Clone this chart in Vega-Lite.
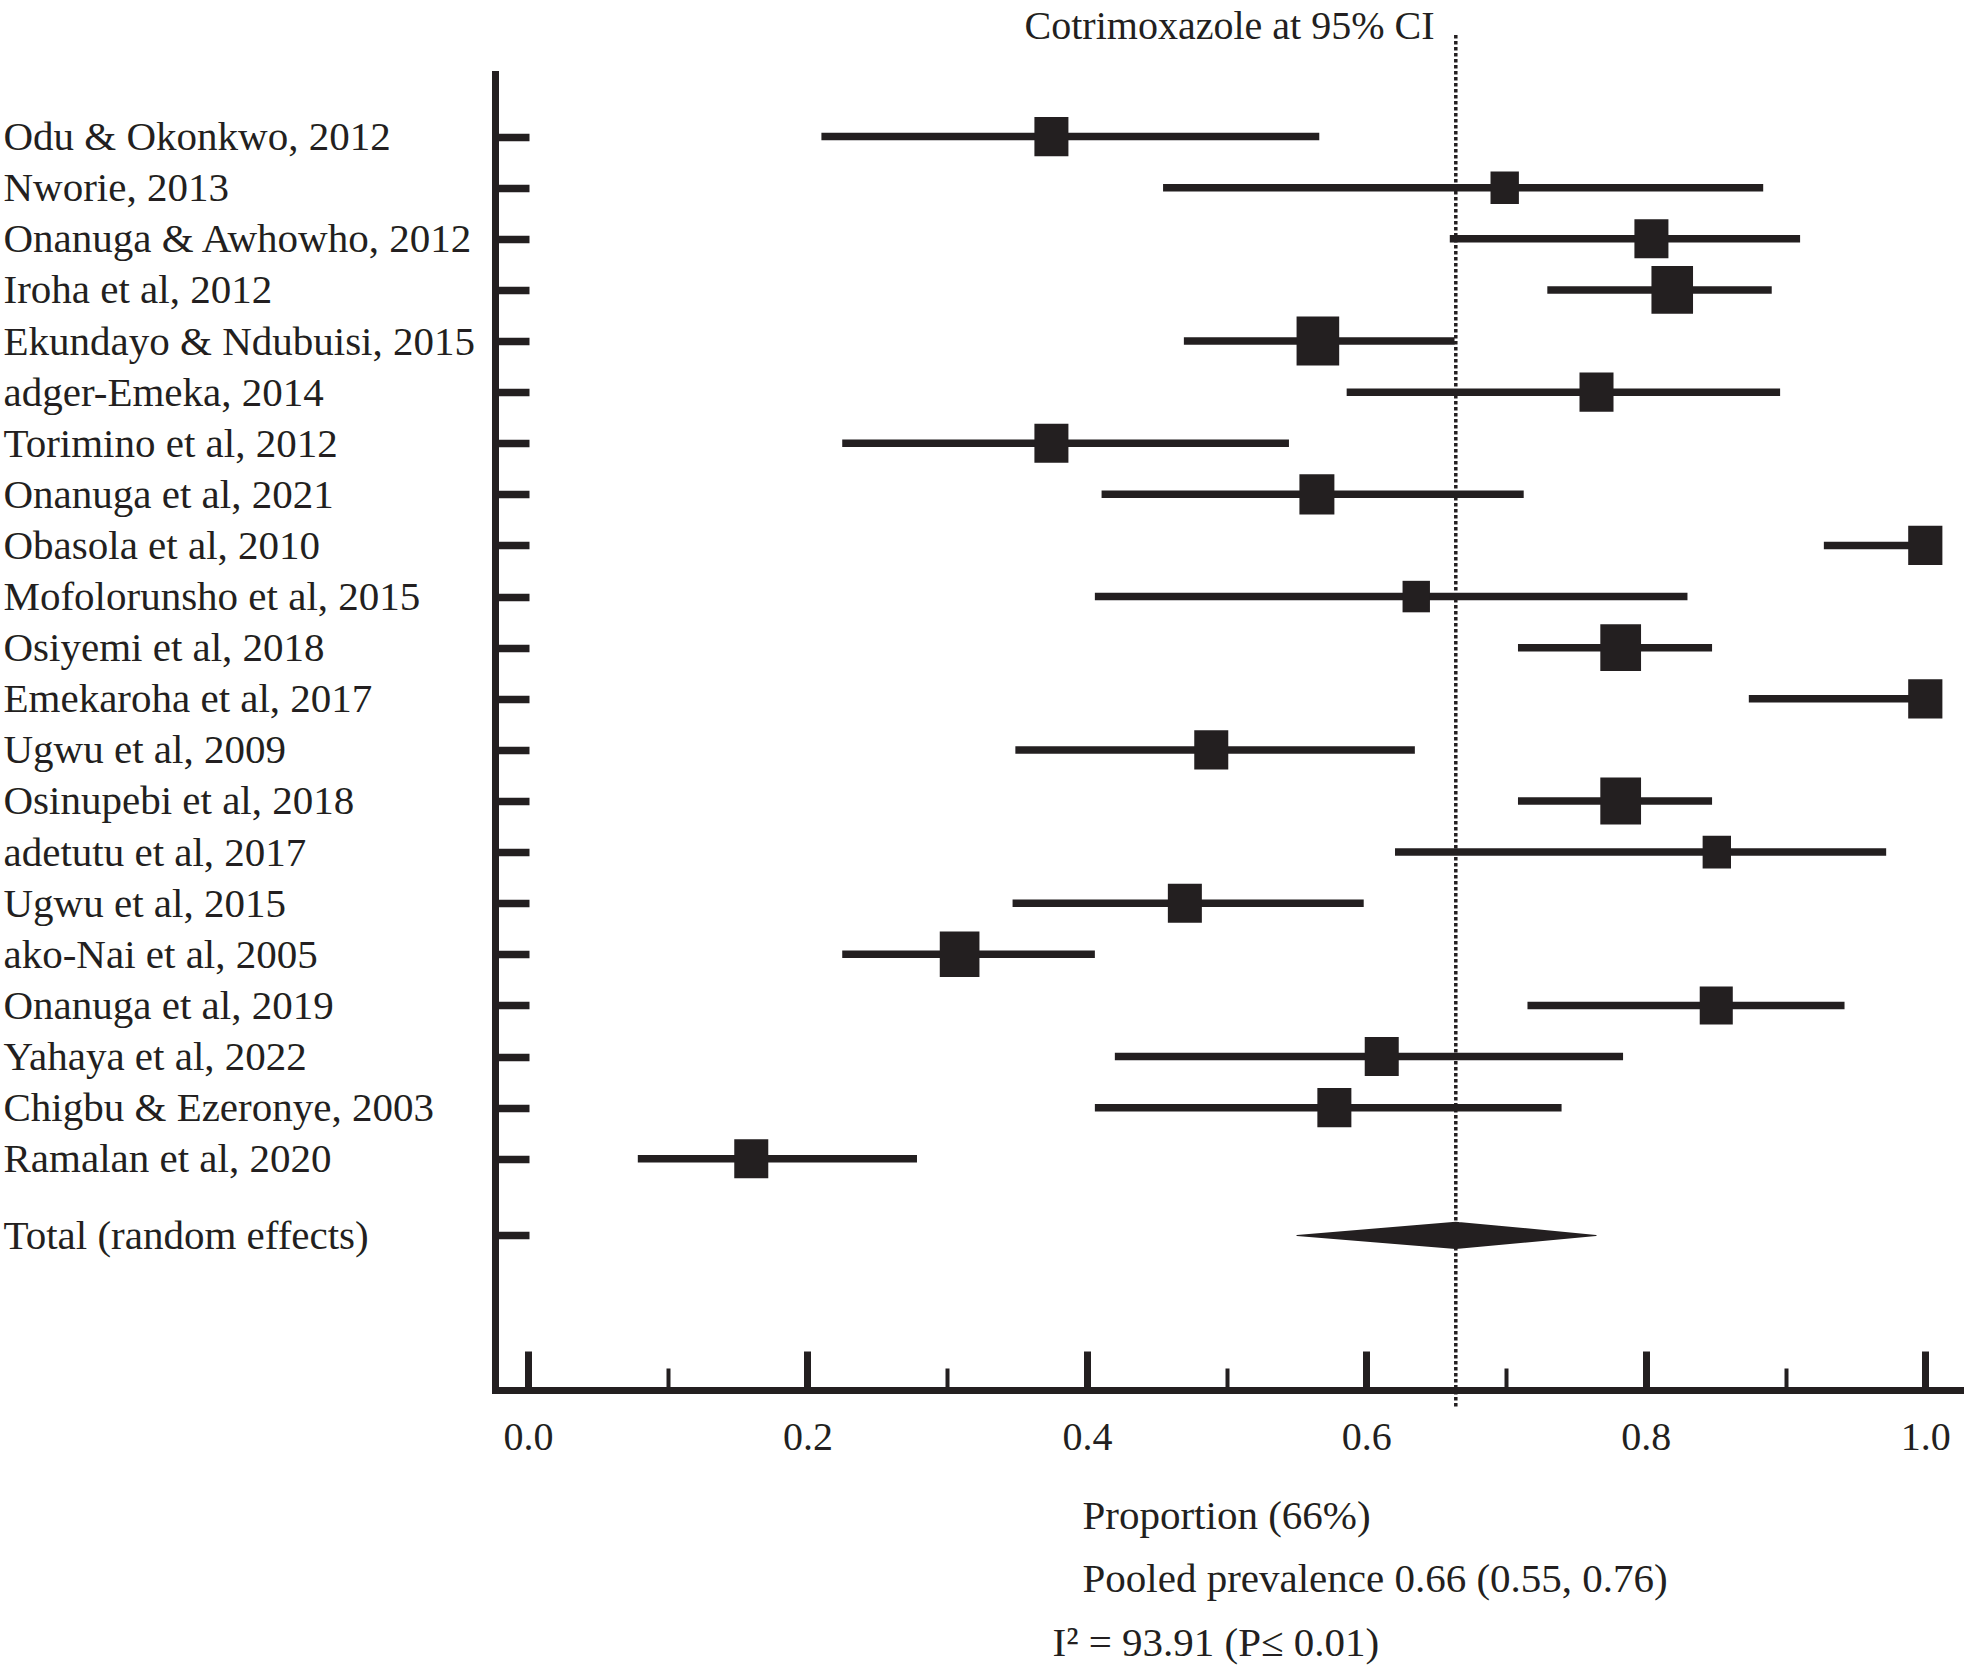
{
  "$schema": "https://vega.github.io/schema/vega-lite/v6.json",
  "autosize": {"type": "none"},
  "padding": {"left": 495, "top": 74, "right": 0, "bottom": 278},
  "width": 1469,
  "height": 1316,
  "background": "white",
  "config": {"view": {"stroke": null}, "axis": {"grid": false}},
  "title": {
    "text": "Cotrimoxazole at 95% CI",
    "font": "Liberation Serif",
    "fontSize": 40,
    "fontWeight": "normal",
    "color": "#231f20",
    "anchor": "middle",
    "baseline": "alphabetic",
    "offset": -46
  },
  "data": {
    "values": [
      {"study": "Odu & Okonkwo, 2012", "kind": "study", "lo": 0.210, "est": 0.3746, "hi": 0.5663, "weight": 3.82},
      {"study": "Nworie, 2013", "kind": "study", "lo": 0.4545, "est": 0.699, "hi": 0.884, "weight": 2.66},
      {"study": "Onanuga & Awhowho, 2012", "kind": "study", "lo": 0.6597, "est": 0.804, "hi": 0.9104, "weight": 3.82},
      {"study": "Iroha et al, 2012", "kind": "study", "lo": 0.7295, "est": 0.8189, "hi": 0.8901, "weight": 5.71},
      {"study": "Ekundayo & Ndubuisi, 2015", "kind": "study", "lo": 0.4694, "est": 0.5653, "hi": 0.6631, "weight": 6.0},
      {"study": "adger-Emeka, 2014", "kind": "study", "lo": 0.5859, "est": 0.7647, "hi": 0.8961, "weight": 3.82},
      {"study": "Torimino et al, 2012", "kind": "study", "lo": 0.2249, "est": 0.3746, "hi": 0.5446, "weight": 3.82},
      {"study": "Onanuga et al, 2021", "kind": "study", "lo": 0.4105, "est": 0.5646, "hi": 0.7126, "weight": 4.04},
      {"study": "Obasola et al, 2010", "kind": "study", "lo": 0.9274, "est": 1.0, "hi": 1.0, "weight": 3.86},
      {"study": "Mofolorunsho et al, 2015", "kind": "study", "lo": 0.4057, "est": 0.6357, "hi": 0.8298, "weight": 2.48},
      {"study": "Osiyemi et al, 2018", "kind": "study", "lo": 0.7085, "est": 0.782, "hi": 0.8474, "weight": 5.48},
      {"study": "Emekaroha et al, 2017", "kind": "study", "lo": 0.8737, "est": 1.0, "hi": 1.0, "weight": 3.86},
      {"study": "Ugwu et al, 2009", "kind": "study", "lo": 0.3488, "est": 0.489, "hi": 0.6347, "weight": 3.82},
      {"study": "Osinupebi et al, 2018", "kind": "study", "lo": 0.7085, "est": 0.782, "hi": 0.8474, "weight": 5.48},
      {"study": "adetutu et al, 2017", "kind": "study", "lo": 0.6205, "est": 0.8508, "hi": 0.972, "weight": 2.66},
      {"study": "Ugwu et al, 2015", "kind": "study", "lo": 0.3468, "est": 0.4701, "hi": 0.5981, "weight": 3.82},
      {"study": "ako-Nai et al, 2005", "kind": "study", "lo": 0.2249, "est": 0.3089, "hi": 0.4057, "weight": 5.2},
      {"study": "Onanuga et al, 2019", "kind": "study", "lo": 0.7153, "est": 0.8504, "hi": 0.9422, "weight": 3.61},
      {"study": "Yahaya et al, 2022", "kind": "study", "lo": 0.42, "est": 0.611, "hi": 0.7837, "weight": 3.82},
      {"study": "Chigbu & Ezeronye, 2003", "kind": "study", "lo": 0.4057, "est": 0.5771, "hi": 0.7397, "weight": 3.82},
      {"study": "Ramalan et al, 2020", "kind": "study", "lo": 0.0786, "est": 0.1598, "hi": 0.2784, "weight": 3.82},
      {"study": "Total (random effects)", "kind": "total", "lo": 0.5503, "est": 0.664, "hi": 0.7644, "weight": null}
    ]
  },
  "encoding": {
    "y": {
      "field": "study",
      "type": "nominal",
      "scale": {
        "type": "point",
        "domain": [
          "t1", "t2",
          "Odu & Okonkwo, 2012", "g1", "Nworie, 2013", "g2", "Onanuga & Awhowho, 2012", "g3", "Iroha et al, 2012", "g4",
          "Ekundayo & Ndubuisi, 2015", "g5", "adger-Emeka, 2014", "g6", "Torimino et al, 2012", "g7", "Onanuga et al, 2021", "g8",
          "Obasola et al, 2010", "g9", "Mofolorunsho et al, 2015", "g10", "Osiyemi et al, 2018", "g11", "Emekaroha et al, 2017", "g12",
          "Ugwu et al, 2009", "g13", "Osinupebi et al, 2018", "g14", "adetutu et al, 2017", "g15", "Ugwu et al, 2015", "g16",
          "ako-Nai et al, 2005", "g17", "Onanuga et al, 2019", "g18", "Yahaya et al, 2022", "g19", "Chigbu & Ezeronye, 2003", "g20",
          "Ramalan et al, 2020", "g21", "g22", "Total (random effects)",
          "b1", "b2", "b3", "b4", "b5"
        ],
        "padding": 0.75,
        "align": 0.3
      },
      "axis": {
        "values": [
          "Odu & Okonkwo, 2012", "Nworie, 2013", "Onanuga & Awhowho, 2012", "Iroha et al, 2012", "Ekundayo & Ndubuisi, 2015",
          "adger-Emeka, 2014", "Torimino et al, 2012", "Onanuga et al, 2021", "Obasola et al, 2010", "Mofolorunsho et al, 2015",
          "Osiyemi et al, 2018", "Emekaroha et al, 2017", "Ugwu et al, 2009", "Osinupebi et al, 2018", "adetutu et al, 2017",
          "Ugwu et al, 2015", "ako-Nai et al, 2005", "Onanuga et al, 2019", "Yahaya et al, 2022", "Chigbu & Ezeronye, 2003",
          "Ramalan et al, 2020", "Total (random effects)"
        ],
        "domain": true,
        "domainColor": "#231f20",
        "domainWidth": 7,
        "domainCap": "square",
        "ticks": true,
        "tickSize": -34,
        "tickWidth": 7.5,
        "tickColor": "#231f20",
        "labelFont": "Liberation Serif",
        "labelFontSize": 41,
        "labelColor": "#231f20",
        "labelAlign": "left",
        "labelBaseline": "alphabetic",
        "labelPadding": 526,
        "labelOffset": 13,
        "labelLimit": 1000,
        "labelOverlap": false,
        "title": "I\u00b2 = 93.91 (P\u2264 0.01)",
        "titleAngle": 0,
        "titleFont": "Liberation Serif",
        "titleFontSize": 41,
        "titleFontWeight": "normal",
        "titleColor": "#231f20",
        "titleAlign": "left",
        "titleBaseline": "alphabetic",
        "titleX": 557,
        "titleY": 1581,
        "titleLimit": 3000
      }
    }
  },
  "layer": [
    {
      "transform": [{"filter": "datum.kind === 'total'"}],
      "mark": {"type": "rule", "color": "#231f20", "strokeWidth": 3.5, "strokeDash": [3.5, 2.5]},
      "encoding": {
        "x": {"field": "est", "type": "quantitative"},
        "y": {"value": -39},
        "y2": {"value": 1333}
      }
    },
    {
      "transform": [{"filter": "datum.kind === 'study'"}],
      "mark": {"type": "rule", "color": "#231f20", "strokeWidth": 7.5, "strokeCap": "butt"},
      "encoding": {
        "x": {
          "field": "lo",
          "type": "quantitative",
          "scale": {"domain": [-0.0236, 1.0277], "nice": false, "zero": false},
          "axis": {
            "orient": "bottom",
            "values": [0, 0.1, 0.2, 0.3, 0.4, 0.5, 0.6, 0.7, 0.8, 0.9, 1.0],
            "labelExpr": "round(datum.value * 10) % 2 === 0 ? format(datum.value, '.1f') : ''",
            "domain": true,
            "domainColor": "#231f20",
            "domainWidth": 7,
            "domainCap": "square",
            "ticks": true,
            "tickColor": "#231f20",
            "tickSize": {"condition": {"test": "round(datum.value * 10) % 2 === 0", "value": -39}, "value": -22},
            "tickWidth": {"condition": {"test": "round(datum.value * 10) % 2 === 0", "value": 7}, "value": 4},
            "labelFont": "Liberation Serif",
            "labelFontSize": 40,
            "labelColor": "#231f20",
            "labelBaseline": "alphabetic",
            "labelPadding": 98,
            "labelFlush": false,
            "labelOverlap": false,
            "title": ["Proportion (66%)", "Pooled prevalence 0.66 (0.55, 0.76)"],
            "titleFont": "Liberation Serif",
            "titleFontSize": 41,
            "titleFontWeight": "normal",
            "titleColor": "#231f20",
            "titleAlign": "left",
            "titleAnchor": "start",
            "titleBaseline": "alphabetic",
            "titleX": 587,
            "titleY": 138,
            "titleLineHeight": 63.4,
            "titleLimit": 3000
          }
        },
        "x2": {"field": "hi"}
      }
    },
    {
      "transform": [{"filter": "datum.kind === 'study'"}],
      "mark": {
        "type": "point",
        "shape": "M-0.87,-1L0.87,-1L0.87,1L-0.87,1Z",
        "filled": true,
        "opacity": 1,
        "color": "#231f20",
        "strokeWidth": 0
      },
      "encoding": {
        "x": {"field": "est", "type": "quantitative"},
        "size": {
          "field": "weight",
          "type": "quantitative",
          "scale": {"type": "linear", "domain": [0, 10], "range": [0, 4000], "zero": true},
          "legend": null
        }
      }
    },
    {
      "transform": [
        {"filter": "datum.kind === 'total'"},
        {"fold": ["lo", "est", "hi"], "as": ["key", "val"]}
      ],
      "mark": {"type": "trail", "color": "#231f20", "opacity": 1},
      "encoding": {
        "x": {"field": "val", "type": "quantitative"},
        "size": {"condition": {"test": "datum.key === 'est'", "value": 27.4}, "value": 0}
      }
    }
  ]
}
